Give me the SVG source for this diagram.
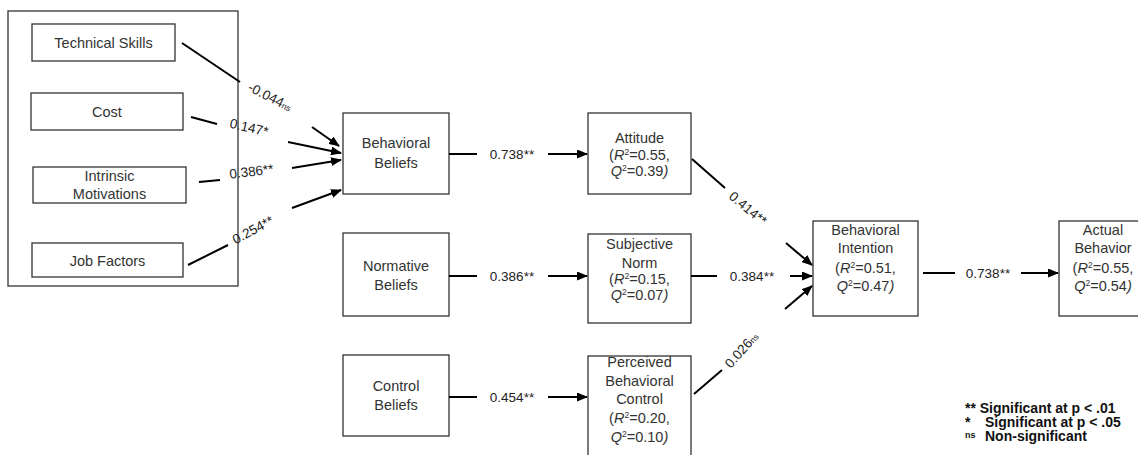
<svg xmlns="http://www.w3.org/2000/svg" width="1138" height="455" viewBox="0 0 1138 455">
<style>
.box{fill:#fff;stroke:#333;stroke-width:1.3}
.t{font-family:"Liberation Sans",Arial,sans-serif;font-size:14.5px;fill:#333;text-anchor:middle}
.l{font-family:"Liberation Sans",Arial,sans-serif;font-size:13.5px;fill:#222;text-anchor:middle}
.c{stroke:#000;stroke-width:2;fill:none}
.lg{font-family:"Liberation Sans",Arial,sans-serif;font-size:14px;font-weight:bold;fill:#111}
.i{font-style:italic}
.s{font-size:8.5px}
</style>
<defs>
<marker id="ah" markerWidth="11" markerHeight="9" refX="10" refY="4.5" orient="auto" markerUnits="userSpaceOnUse">
<path d="M0,0 L11,4.5 L0,9 z" fill="#000"/>
</marker>
</defs>
<rect width="1138" height="455" fill="#fff"/>
<g id="group-box"><rect class="box" x="8" y="11" width="230" height="275"/></g>
<g id="technical-skills"><rect class="box" x="32" y="24" width="143" height="37"/><text class="t" x="103.5" y="48">Technical Skills</text></g>
<g id="cost"><rect class="box" x="31" y="93" width="152" height="37"/><text class="t" x="107" y="117">Cost</text></g>
<g id="intrinsic-motivations"><rect class="box" x="33" y="167" width="153" height="36"/><text class="t" x="109.5" y="181">Intrinsic</text><text class="t" x="109.5" y="199">Motivations</text></g>
<g id="job-factors"><rect class="box" x="32" y="243" width="151" height="34"/><text class="t" x="107.5" y="266">Job Factors</text></g>
<g id="behavioral-beliefs"><rect class="box" x="343" y="113" width="106" height="81"/><text class="t" x="396" y="148">Behavioral</text><text class="t" x="396" y="168">Beliefs</text></g>
<g id="normative-beliefs"><rect class="box" x="343" y="233" width="106" height="83"/><text class="t" x="396" y="271">Normative</text><text class="t" x="396" y="290">Beliefs</text></g>
<g id="control-beliefs"><rect class="box" x="343" y="355" width="106" height="81"/><text class="t" x="396" y="391">Control</text><text class="t" x="396" y="410">Beliefs</text></g>
<g id="attitude"><rect class="box" x="588" y="113" width="103" height="81"/><text class="t" x="639.5" y="143">Attitude</text><text class="t" x="639.5" y="160">(<tspan class="i">R</tspan><tspan class="s" dy="-5">2</tspan><tspan dy="5">=0.55,</tspan></text><text class="t" x="639.5" y="176"><tspan class="i">Q</tspan><tspan class="s" dy="-5">2</tspan><tspan dy="5">=0.39</tspan><tspan class="i">)</tspan></text></g>
<g id="subjective-norm"><rect class="box" x="588" y="234" width="103" height="89"/><text class="t" x="639.5" y="249">Subjective</text><text class="t" x="639.5" y="268">Norm</text><text class="t" x="639.5" y="284">(<tspan class="i">R</tspan><tspan class="s" dy="-5">2</tspan><tspan dy="5">=0.15,</tspan></text><text class="t" x="639.5" y="300"><tspan class="i">Q</tspan><tspan class="s" dy="-5">2</tspan><tspan dy="5">=0.07</tspan><tspan class="i">)</tspan></text></g>
<g id="perceived-behavioral-control"><rect class="box" x="588" y="356" width="103" height="110"/><text class="t" x="639.5" y="367">Perceived</text><text class="t" x="639.5" y="386">Behavioral</text><text class="t" x="639.5" y="404">Control</text><text class="t" x="639.5" y="423">(<tspan class="i">R</tspan><tspan class="s" dy="-5">2</tspan><tspan dy="5">=0.20,</tspan></text><text class="t" x="639.5" y="442"><tspan class="i">Q</tspan><tspan class="s" dy="-5">2</tspan><tspan dy="5">=0.10</tspan><tspan class="i">)</tspan></text></g>
<g id="behavioral-intention"><rect class="box" x="813" y="221" width="105" height="95"/><text class="t" x="865.5" y="235">Behavioral</text><text class="t" x="865.5" y="253">Intention</text><text class="t" x="865.5" y="273">(<tspan class="i">R</tspan><tspan class="s" dy="-5">2</tspan><tspan dy="5">=0.51,</tspan></text><text class="t" x="865.5" y="291"><tspan class="i">Q</tspan><tspan class="s" dy="-5">2</tspan><tspan dy="5">=0.47</tspan><tspan class="i">)</tspan></text></g>
<g id="actual-behavior"><rect class="box" x="1059" y="221" width="100" height="95"/><text class="t" x="1103" y="235">Actual</text><text class="t" x="1103" y="253">Behavior</text><text class="t" x="1103" y="273">(<tspan class="i">R</tspan><tspan class="s" dy="-5">2</tspan><tspan dy="5">=0.55,</tspan></text><text class="t" x="1103" y="291"><tspan class="i">Q</tspan><tspan class="s" dy="-5">2</tspan><tspan dy="5">=0.54</tspan><tspan class="i">)</tspan></text></g>
<g id="connectors">
<line class="c" x1="182" y1="43" x2="240" y2="82"/>
<line class="c" x1="312" y1="127" x2="339" y2="146" marker-end="url(#ah)"/>
<line class="c" x1="191" y1="117" x2="217" y2="124"/>
<line class="c" x1="288" y1="142" x2="341" y2="153" marker-end="url(#ah)"/>
<line class="c" x1="199" y1="182" x2="220" y2="180"/>
<line class="c" x1="292" y1="168" x2="341" y2="160" marker-end="url(#ah)"/>
<line class="c" x1="188" y1="265" x2="228" y2="245"/>
<line class="c" x1="292" y1="208" x2="341" y2="190" marker-end="url(#ah)"/>
<line class="c" x1="449" y1="154" x2="477" y2="154"/>
<line class="c" x1="548" y1="154" x2="587" y2="154" marker-end="url(#ah)"/>
<line class="c" x1="449" y1="276" x2="477" y2="276"/>
<line class="c" x1="548" y1="276" x2="587" y2="276" marker-end="url(#ah)"/>
<line class="c" x1="449" y1="397" x2="477" y2="397"/>
<line class="c" x1="548" y1="397" x2="587" y2="397" marker-end="url(#ah)"/>
<line class="c" x1="692" y1="159" x2="725" y2="188"/>
<line class="c" x1="786" y1="243" x2="812" y2="265" marker-end="url(#ah)"/>
<line class="c" x1="691" y1="276" x2="717" y2="276"/>
<line class="c" x1="790" y1="276" x2="812" y2="276" marker-end="url(#ah)"/>
<line class="c" x1="694" y1="394" x2="722" y2="370"/>
<line class="c" x1="785" y1="309" x2="812" y2="286" marker-end="url(#ah)"/>
<line class="c" x1="923" y1="273" x2="955" y2="273"/>
<line class="c" x1="1021" y1="273" x2="1058" y2="273" marker-end="url(#ah)"/>
<text class="l" transform="translate(268,101) rotate(27)">-0.044<tspan class="s">ns</tspan></text>
<text class="l" transform="translate(248,132) rotate(13)">0.147*</text>
<text class="l" transform="translate(252,176) rotate(-7)">0.386**</text>
<text class="l" transform="translate(255,234) rotate(-28)">0.254**</text>
<text class="l" x="512" y="159">0.738**</text>
<text class="l" x="512" y="281">0.386**</text>
<text class="l" x="512" y="402">0.454**</text>
<text class="l" transform="translate(745,212) rotate(40)">0.414**</text>
<text class="l" x="752" y="281">0.384**</text>
<text class="l" transform="translate(745,353) rotate(-48)">0.026<tspan class="s">ns</tspan></text>
<text class="l" x="988" y="278">0.738**</text>
</g>
<g id="legend">
<text class="lg" x="965" y="413">** Significant at p &lt; .01</text>
<text class="lg" x="965" y="427">*<tspan x="985">Significant at p &lt; .05</tspan></text>
<text class="lg" x="965" y="441"><tspan font-size="9" dy="-3">ns</tspan><tspan x="985" dy="3">Non-significant</tspan></text>
</g>
</svg>
